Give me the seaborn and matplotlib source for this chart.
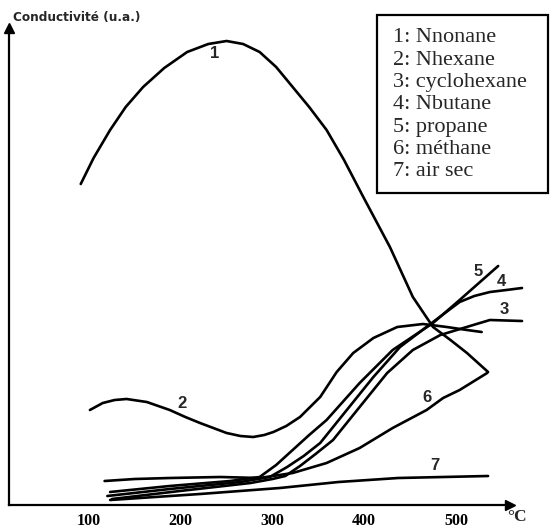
import matplotlib
matplotlib.use("Agg")
import matplotlib.pyplot as plt
from matplotlib.patches import Rectangle
import seaborn as sns

# temperatures (degC) and conductivity (arbitrary units)
t1 = [91, 105, 123, 140, 159, 182, 207, 230, 250, 268, 286, 304, 322, 340, 359, 378, 399, 428, 453, 475, 494, 512, 535]
c1 = [3.21, 3.47, 3.75, 3.98, 4.18, 4.37, 4.53, 4.61, 4.64, 4.61, 4.53, 4.38, 4.18, 3.98, 3.75, 3.45, 3.08, 2.58, 2.08, 1.78, 1.65, 1.52, 1.33]

t2 = [101, 115, 128, 141, 163, 188, 205, 221, 250, 265, 279, 291, 301, 315, 330, 352, 370, 388, 410, 436, 464, 490, 512, 528]
c2 = [0.95, 1.02, 1.05, 1.06, 1.03, 0.95, 0.88, 0.82, 0.72, 0.69, 0.68, 0.70, 0.73, 0.79, 0.88, 1.08, 1.33, 1.52, 1.67, 1.78, 1.81, 1.78, 1.75, 1.73]

t3 = [125, 199, 276, 300, 314, 330, 347, 366, 395, 425, 453, 483, 508, 537, 572]
c3 = [0.06, 0.14, 0.22, 0.26, 0.29, 0.39, 0.51, 0.65, 0.98, 1.32, 1.55, 1.70, 1.77, 1.85, 1.84]

t4 = [120, 188, 265, 297, 316, 334, 352, 381, 410, 439, 475, 504, 520, 537, 555, 572]
c4 = [0.09, 0.16, 0.23, 0.28, 0.38, 0.49, 0.62, 0.95, 1.28, 1.58, 1.83, 2.03, 2.09, 2.13, 2.15, 2.17]

t5 = [123, 188, 254, 286, 304, 322, 340, 359, 395, 431, 475, 504, 546]
c5 = [0.13, 0.19, 0.24, 0.28, 0.40, 0.55, 0.70, 0.85, 1.22, 1.55, 1.82, 2.05, 2.39]

t6 = [117, 150, 188, 243, 286, 322, 359, 395, 431, 468, 486, 504, 534]
c6 = [0.24, 0.26, 0.27, 0.28, 0.27, 0.32, 0.42, 0.57, 0.77, 0.95, 1.07, 1.15, 1.32]

t7 = [123, 221, 308, 372, 437, 535]
c7 = [0.05, 0.11, 0.17, 0.23, 0.27, 0.29]

curves = [(t1, c1), (t2, c2), (t3, c3), (t4, c4), (t5, c5), (t6, c6), (t7, c7)]
curve_names = ["1", "2", "3", "4", "5", "6", "7"]
name_pos = [(237, 4.52), (201, 1.02), (553, 1.95), (550, 2.23), (524, 2.33), (468, 1.07), (477, 0.39)]

legend_lines = ["1: Nnonane", "2: Nhexane", "3: cyclohexane", "4: Nbutane",
                "5: propane", "6: méthane", "7: air sec"]
xticks = [100, 200, 300, 400, 500]

sns.set_style("white")
W, H = 550, 529
fig = plt.figure(figsize=(5.5, 5.29), dpi=100)
ax = fig.add_axes([9 / W, 24 / H, 501 / W, 477 / H])

for t, c in curves:
    sns.lineplot(x=t, y=c, ax=ax, color="black", lw=1.9, sort=False,
                 estimator=None, clip_on=False)

for name, (x, y) in zip(curve_names, name_pos):
    ax.text(x, y, name, fontsize=12, fontweight="bold", family="Liberation Sans",
            ha="center", va="center")

ax.set_xlim(12.8, 558.9)
ax.set_ylim(0, 4.77)
ax.set_xticks(xticks)
ax.set_xticklabels([str(v) for v in xticks], family="Liberation Serif",
                   fontweight="bold", fontsize=11.5)
ax.set_yticks([])
ax.tick_params(axis="x", direction="in", length=5, width=1.4, pad=6, colors="black")
for s in ["top", "right"]:
    ax.spines[s].set_visible(False)
for s in ["left", "bottom"]:
    ax.spines[s].set_color("black")
    ax.spines[s].set_linewidth(1.6)

# axis arrows
ax.plot([1], [0], marker=">", color="black", ms=7, transform=ax.transAxes, clip_on=False)
ax.plot([0], [1], marker="^", color="black", ms=7, transform=ax.transAxes, clip_on=False)

fig.text(517 / W, 1 - 517 / H, "°C", family="Liberation Serif", fontweight="bold",
         fontsize=12.5, ha="center", va="center")
fig.text(13 / W, 1 - 17 / H, "Conductivité (u.a.)", family="DejaVu Sans",
         fontweight="bold", fontsize=8.7, ha="left", va="center")

# legend box
fig.patches.append(Rectangle((377 / W, 1 - 193 / H), 171 / W, 178 / H, fill=False,
                             lw=1.6, ec="black", transform=fig.transFigure, figure=fig))
for i, line in enumerate(legend_lines):
    fig.text(393 / W, 1 - (38 + 22.3 * i) / H, line, family="Liberation Serif",
             fontsize=16, ha="left", va="center")

fig.savefig("out.png", dpi=100)
